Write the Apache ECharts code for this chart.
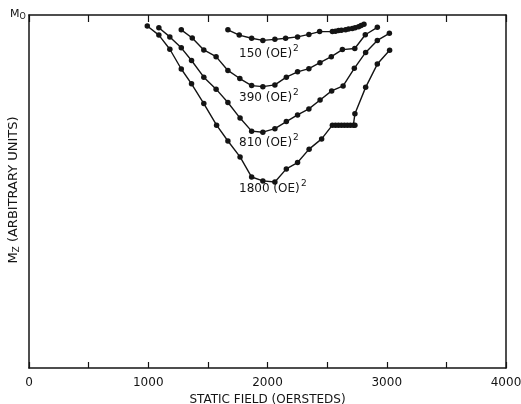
<!DOCTYPE html>
<html>
<head>
<meta charset="utf-8">
<script src="https://cdn.jsdelivr.net/npm/echarts@6/dist/echarts.min.js"></script>
<style>
html,body{margin:0;padding:0;background:#fff;}
#c{width:521px;height:404px;}
</style>
</head>
<body>
<div id="c"></div>
<script>
// Static field (Oe) and Mz (fraction of M0)
const field150 = [1668,1763,1867,1961,2062,2152,2252,2347,2437,2544,2570,2596,2620,2655,2680,2711,2735,2764,2785,2809];
const mz150    = [0.958,0.943,0.934,0.928,0.931,0.934,0.938,0.945,0.953,0.953,0.954,0.956,0.957,0.958,0.960,0.962,0.964,0.967,0.970,0.974];

const field390 = [1277,1369,1466,1569,1668,1768,1867,1961,2062,2158,2252,2347,2440,2535,2628,2732,2820,2921];
const mz390    = [0.958,0.935,0.901,0.882,0.843,0.820,0.800,0.797,0.802,0.824,0.839,0.848,0.865,0.882,0.902,0.905,0.944,0.965];

const field810 = [1089,1181,1277,1363,1466,1569,1668,1770,1867,1961,2062,2158,2252,2347,2441,2538,2634,2728,2823,2921,3022];
const mz810    = [0.964,0.938,0.907,0.871,0.824,0.790,0.752,0.708,0.671,0.668,0.678,0.698,0.717,0.734,0.759,0.785,0.799,0.849,0.894,0.928,0.948];

const field1800 = [992,1089,1181,1277,1363,1466,1573,1668,1770,1867,1961,2062,2158,2252,2349,2454,2544,2570,2595,2620,2645,2670,2695,2720,2733,2733,2823,2921,3024];
const mz1800    = [0.969,0.943,0.903,0.847,0.805,0.749,0.688,0.643,0.598,0.541,0.530,0.527,0.564,0.582,0.620,0.649,0.688,0.688,0.688,0.688,0.688,0.688,0.688,0.688,0.688,0.720,0.795,0.861,0.900];

const curveNames = ['150','390','810','1800'];
const xTicks = [0,1000,2000,3000,4000];

const ink = '#141414';
const font = 'DejaVu Sans';

function pairs(xs, ys){ return xs.map((x,i)=>[x, ys[i]]); }

const curves = [[field150,mz150],[field390,mz390],[field810,mz810],[field1800,mz1800]];

const chart = echarts.init(document.getElementById('c'), null, {renderer:'canvas'});

const series = curves.map((c,i)=>({
  name: curveNames[i],
  type: 'line',
  data: pairs(c[0], c[1]),
  symbol: 'circle',
  symbolSize: 5.5,
  showAllSymbol: true,
  itemStyle: {color: ink},
  lineStyle: {color: ink, width: 1.4},
  smooth: false,
  animation: false
}));

const labelTop = [56, 100, 145, 191];
const graphics = curveNames.map((n,i)=>({
  type: 'text',
  left: 239,
  top: labelTop[i] - 8,
  style: {
    text: n + ' (OE)',
    fill: ink,
    font: '12px "' + font + '"'
  }
})).concat(curveNames.map((n,i)=>({
  type: 'text',
  left: 239 + (n.length===4 ? 62 : 54),
  top: labelTop[i] - 12,
  style: {text: '2', fill: ink, font: '9px "' + font + '"'}
}))).concat([{
  type: 'text',
  x: 14, y: 190,
  rotation: Math.PI / 2,
  style: {
    text: '{m|M}{s|Z}{m| (ARBITRARY UNITS)}',
    align: 'center', verticalAlign: 'middle',
    rich: {
      m: {fill: ink, fontFamily: font, fontSize: 13},
      s: {fill: ink, fontFamily: font, fontSize: 9, padding: [6,0,0,0]}
    }
  }
}, {
  type: 'text',
  x: 10, y: 8,
  style: {
    text: '{m|M}{s|O}',
    rich: {
      m: {fill: ink, fontFamily: font, fontSize: 11},
      s: {fill: ink, fontFamily: font, fontSize: 8, padding: [5,0,0,0]}
    }
  }
}]);

chart.setOption({
  animation: false,
  backgroundColor: '#fff',
  grid: {left: 29, right: 15, top: 15, bottom: 36, show: false, outerBoundsMode: 'none', containLabel: false},
  xAxis: [{
    type: 'value', position: 'bottom', min: 0, max: 4000, interval: 500,
    axisLine: {show: true, onZero: false, lineStyle: {color: ink, width: 1.5}},
    axisTick: {show: true, inside: true, length: 6, lineStyle: {color: ink, width: 1.2}},
    splitLine: {show: false},
    axisLabel: {
      color: ink, fontFamily: font, fontSize: 12, margin: 9,
      formatter: v => xTicks.includes(v) ? String(v) : ''
    },
    name: 'STATIC FIELD (OERSTEDS)',
    nameLocation: 'middle', nameGap: 25,
    nameTextStyle: {color: ink, fontFamily: font, fontSize: 12}
  },{
    type: 'value', position: 'top', min: 0, max: 4000, interval: 500,
    axisLine: {show: true, onZero: false, lineStyle: {color: ink, width: 1.5}},
    axisTick: {show: true, inside: true, length: 7, lineStyle: {color: ink, width: 1.2}},
    splitLine: {show: false},
    axisLabel: {show: false}
  }],
  yAxis: [{
    type: 'value', position: 'left', min: 0, max: 1, interval: 1,
    axisLine: {show: true, onZero: false, lineStyle: {color: ink, width: 1.5}},
    axisTick: {show: false},
    splitLine: {show: false},
    axisLabel: {show: false}
  },{
    type: 'value', position: 'right', min: 0, max: 1, interval: 1,
    axisLine: {show: true, onZero: false, lineStyle: {color: ink, width: 1.5}},
    axisTick: {show: false}, axisLabel: {show: false}, splitLine: {show: false}
  }],
  series: series,
  graphic: graphics
});
</script>
</body>
</html>
